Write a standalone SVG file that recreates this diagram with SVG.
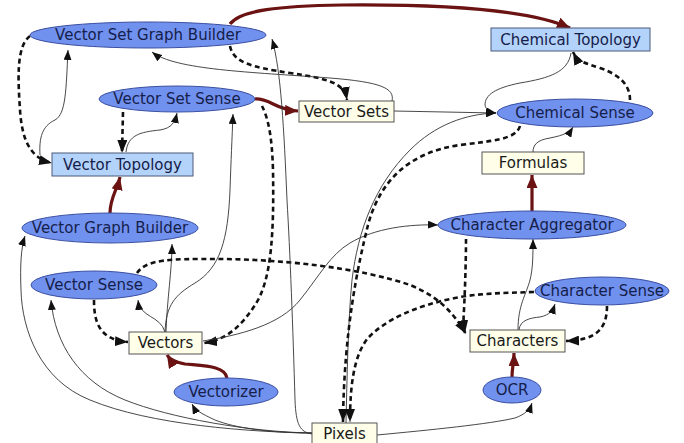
<svg xmlns="http://www.w3.org/2000/svg" width="684" height="443" viewBox="0 0 684 443">
<style>
.proc{fill:#7191ef;stroke:#3b4fa0;stroke-width:1}
.topo{fill:#b4d3fa;stroke:#4a5a7a;stroke-width:1}
.data{fill:#fefee9;stroke:#555;stroke-width:1}
text{font-family:"DejaVu Sans",sans-serif;font-size:15px;text-anchor:middle}
.pt{fill:#15204a}
.bt{fill:#1a1a1a}
.thin{fill:none;stroke:#333;stroke-width:0.9;marker-end:url(#ah)}
.dash{fill:none;stroke:#111;stroke-width:2.6;stroke-dasharray:5,3.5;marker-end:url(#ahd)}
.red{fill:none;stroke:#6b1212;stroke-width:3.2;marker-end:url(#ahr)}
</style>
<defs>
<marker id="ah" markerUnits="userSpaceOnUse" markerWidth="10" markerHeight="8" refX="10" refY="4" orient="auto"><path d="M0,0 L10,4 L0,8 z" fill="#111"/></marker>
<marker id="ahd" markerUnits="userSpaceOnUse" markerWidth="13" markerHeight="10" refX="13" refY="5" orient="auto"><path d="M0,0 L13,5 L0,10 z" fill="#111"/></marker>
<marker id="ahr" markerUnits="userSpaceOnUse" markerWidth="13" markerHeight="11" refX="13" refY="5.5" orient="auto"><path d="M0,0 L13,5.5 L0,11 z" fill="#6b1212"/></marker>
</defs>
<rect width="684" height="443" fill="#fff"/>
<g id="connectors">
<path class="red" d="M230,24 C240,10 280,6 342,5 C450,4 530,10 570,28"/>
<path class="dash" d="M30,36 C16,46 18,80 20,110 C22,140 30,158 52,163"/>
<path class="thin" d="M40,155 C39,138 42,126 55,120 C66,114 66,90 68,50"/>
<path class="dash" d="M230,46 C233,62 250,67 290,73 C330,79 344,83 347,100"/>
<path class="thin" d="M392,101 C395,88 380,82 330,78 C250,72 175,70 152,52"/>
<path class="red" d="M255,99 C270,98 275,110 298,111"/>
<path class="dash" d="M123,112 L122,153"/>
<path class="thin" d="M126,152 C128,135 140,132 160,130 C172,128 175,122 177,113"/>
<path class="thin" d="M165,332 C166,305 175,295 195,283 C220,268 228,240 230,190 C231,160 232,140 233,114"/>
<path class="thin" d="M166,332 C167,300 172,270 172,244"/>
<path class="thin" d="M165,332 C160,315 140,318 138,300"/>
<path class="dash" d="M94,300 C94,320 98,340 128,342"/>
<path class="dash" d="M137,273 C145,262 160,259 200,259 C280,258 360,268 410,285 C440,297 455,315 466,334"/>
<path class="dash" d="M262,106 C268,118 272,135 273,170 C274,230 272,280 255,305 C240,328 225,340 204,343"/>
<path class="thin" d="M312,434 C300,432 296,425 295,400 C293,330 290,250 287,200 C284,130 281,70 272,39"/>
<path class="thin" d="M203,341 C240,335 280,325 300,300 C320,275 330,255 350,243 C375,228 410,224 438,225"/>
<path class="thin" d="M346,423 C347,380 348,320 352,280 C358,230 375,185 410,150 C435,125 465,114 496,113"/>
<path class="dash" d="M520,126 C516,140 490,141 460,145 C410,152 380,180 368,225 C358,265 344,330 343,422"/>
<path class="dash" d="M534,292 C505,293 480,293 455,298 C415,306 385,320 368,338 C354,355 350,385 350,422"/>
<path class="dash" d="M466,239 C466,260 465,290 464,310 C463,320 464,326 465,333"/>
<path class="thin" d="M518,330 C518,305 526,295 530,280 C533,268 533,255 533,239"/>
<path class="thin" d="M519,330 C520,320 530,318 540,317 C550,315 553,310 555,304"/>
<path class="dash" d="M607,306 C607,330 595,340 566,341"/>
<path class="red" d="M512,377 C512,368 514,362 514,353"/>
<path class="thin" d="M377,435 C430,430 490,424 515,418 C526,414 530,409 532,403"/>
<path class="red" d="M532,211 L532,175"/>
<path class="thin" d="M533,152 C533,145 537,140 550,138 C565,135 570,132 573,127"/>
<path class="dash" d="M630,100 C630,85 620,75 600,68 C585,63 578,62 573,52"/>
<path class="thin" d="M571,53 C568,72 550,78 520,83 C495,88 485,95 485,105 C486,110 490,112 496,113"/>
<path class="thin" d="M394,111 L496,113"/>
<path class="red" d="M110,213 C110,198 117,190 120,177"/>
<path class="thin" d="M312,433 C250,432 150,425 90,400 C40,380 22,330 21,290 C20,265 21,248 25,236"/>
<path class="thin" d="M312,433 C250,432 170,418 125,400 C80,382 55,345 51,300"/>
<path class="thin" d="M312,433 C270,433 235,428 215,420 C200,413 195,410 192,404"/>
<path class="red" d="M227,378 C225,366 205,366 185,364 C175,362 170,360 167,355"/>
</g>
<g id="vsgb"><ellipse class="proc" cx="148" cy="35" rx="118" ry="13"/><text class="pt" x="148" y="40">Vector Set Graph Builder</text></g>
<g id="vss"><ellipse class="proc" cx="177" cy="99" rx="78" ry="13"/><text class="pt" x="177" y="104">Vector Set Sense</text></g>
<g id="vsets"><rect class="data" x="299" y="101" width="95" height="21"/><text class="bt" x="346.5" y="117">Vector Sets</text></g>
<g id="chemtop"><rect class="topo" x="491" y="28" width="159" height="23"/><text class="pt" x="570.5" y="45">Chemical Topology</text></g>
<g id="chemsense"><ellipse class="proc" cx="575" cy="113" rx="78" ry="14"/><text class="pt" x="575" y="118">Chemical Sense</text></g>
<g id="vectop"><rect class="topo" x="52" y="153" width="141" height="23"/><text class="pt" x="122.5" y="170">Vector Topology</text></g>
<g id="vgb"><ellipse class="proc" cx="110" cy="228" rx="88" ry="15"/><text class="pt" x="110" y="233">Vector Graph Builder</text></g>
<g id="vsense"><ellipse class="proc" cx="94" cy="285" rx="63" ry="14"/><text class="pt" x="94" y="290">Vector Sense</text></g>
<g id="formulas"><rect class="data" x="482" y="152" width="102" height="22"/><text class="bt" x="533" y="168">Formulas</text></g>
<g id="charagg"><ellipse class="proc" cx="532" cy="225" rx="94" ry="14"/><text class="pt" x="532" y="230">Character Aggregator</text></g>
<g id="charsense"><ellipse class="proc" cx="602" cy="291" rx="67" ry="14"/><text class="pt" x="602" y="296">Character Sense</text></g>
<g id="vectors"><rect class="data" x="129" y="332" width="73" height="22"/><text class="bt" x="165.5" y="348">Vectors</text></g>
<g id="vectorizer"><ellipse class="proc" cx="226" cy="392" rx="52" ry="14"/><text class="pt" x="226" y="397">Vectorizer</text></g>
<g id="characters"><rect class="data" x="470" y="330" width="95" height="22"/><text class="bt" x="517.5" y="346">Characters</text></g>
<g id="ocr"><ellipse class="proc" cx="512" cy="390" rx="29" ry="13"/><text class="pt" x="512" y="395">OCR</text></g>
<g id="pixels"><rect class="data" x="312" y="423" width="65" height="22"/><text class="bt" x="344.5" y="439">Pixels</text></g>
</svg>
